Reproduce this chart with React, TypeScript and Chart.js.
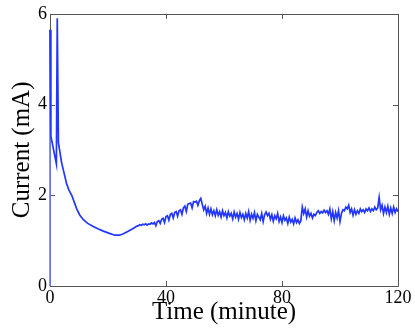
import React, { useEffect, useRef } from "react";
import { Chart, registerables } from "chart.js";

Chart.register(...registerables);

// Start-up transient (minutes, mA)
const earlyTimes = [0, 0, 0.3, 2.2, 2.5, 2.9, 4.0, 5.0, 5.7, 6.5, 7.5, 8.3, 9.2, 10.3, 11.5, 13.0, 14.9, 16.5, 18.4, 20.5, 22.4, 24.0, 25.3, 26.8, 28.2, 29.2];
const earlyCurrent = [0, 5.65, 3.3, 2.69, 5.9, 3.16, 2.72, 2.45, 2.26, 2.12, 2.0, 1.86, 1.7, 1.56, 1.46, 1.38, 1.31, 1.26, 1.21, 1.16, 1.12, 1.12, 1.15, 1.2, 1.25, 1.29];

// Noisy steady part, sampled every 0.5 minute from t = 30 min
const noisyStart = 30;
const noisyInterval = 0.5;
const noisyCurrent = [
  1.32, 1.33, 1.35, 1.34, 1.36, 1.35, 1.37, 1.34, 1.37, 1.36,
  1.39, 1.37, 1.40, 1.33, 1.42, 1.44, 1.38, 1.47, 1.49, 1.40,
  1.53, 1.55, 1.45, 1.58, 1.60, 1.50, 1.62, 1.64, 1.54, 1.66,
  1.68, 1.58, 1.72, 1.76, 1.64, 1.80, 1.82, 1.83, 1.72, 1.86,
  1.85, 1.87, 1.78, 1.88, 1.93, 1.80, 1.68, 1.76, 1.60, 1.72,
  1.58, 1.70, 1.57, 1.66, 1.55, 1.68, 1.56, 1.64, 1.52, 1.66,
  1.55, 1.62, 1.50, 1.64, 1.54, 1.60, 1.48, 1.63, 1.52, 1.60,
  1.47, 1.62, 1.51, 1.58, 1.46, 1.60, 1.50, 1.64, 1.45, 1.58,
  1.49, 1.62, 1.44, 1.58, 1.52, 1.46, 1.60, 1.42, 1.57, 1.63,
  1.55, 1.60, 1.47, 1.57, 1.43, 1.55, 1.48, 1.60, 1.42, 1.52,
  1.40, 1.55, 1.45, 1.50, 1.38, 1.52, 1.41, 1.47, 1.37, 1.50,
  1.40, 1.46, 1.38, 1.44, 1.74, 1.60, 1.70, 1.52, 1.66, 1.54,
  1.60, 1.50, 1.58, 1.55, 1.62, 1.66, 1.60, 1.64, 1.61, 1.67,
  1.62, 1.66, 1.58, 1.70, 1.48, 1.64, 1.44, 1.62, 1.50, 1.66,
  1.42, 1.60, 1.68, 1.66, 1.74, 1.70, 1.78, 1.62, 1.70, 1.56,
  1.68, 1.58, 1.66, 1.60, 1.70, 1.64, 1.68, 1.62, 1.70, 1.66,
  1.72, 1.64, 1.70, 1.66, 1.74, 1.68, 1.72, 1.95, 1.68, 1.78,
  1.60, 1.74, 1.62, 1.76, 1.58, 1.72, 1.60, 1.74, 1.62, 1.70,
  1.64,
];

const xTicks = [0, 40, 80, 120];
const yTicks = [0, 2, 4, 6];

const LINE_COLOR = "#2236ff";
const EDGE_LINE_COLOR = "#6f7eff";
const AXIS_COLOR = "#555555";
const SERIF = "'Liberation Serif', 'Times New Roman', serif";

const framePlugin = {
  id: "frame",
  beforeDatasetsDraw(chart: any) {
    const { ctx, chartArea, scales } = chart;
    const { left, right, top, bottom } = chartArea;
    const tl = 5;
    ctx.save();
    ctx.strokeStyle = AXIS_COLOR;
    ctx.lineWidth = 1;
    ctx.beginPath();
    ctx.rect(Math.round(left) + 0.5, Math.round(top) + 0.5, Math.round(right - left), Math.round(bottom - top));
    xTicks.forEach((v) => {
      const x = Math.round(scales.x.getPixelForValue(v)) + 0.5;
      ctx.moveTo(x, bottom);
      ctx.lineTo(x, bottom - tl);
      ctx.moveTo(x, top);
      ctx.lineTo(x, top + tl);
    });
    yTicks.forEach((v) => {
      const y = Math.round(scales.y.getPixelForValue(v)) + 0.5;
      ctx.moveTo(left, y);
      ctx.lineTo(left + tl, y);
      ctx.moveTo(right, y);
      ctx.lineTo(right - tl, y);
    });
    ctx.stroke();
    ctx.restore();
  },
};

export default function App() {
  const ref = useRef<HTMLCanvasElement | null>(null);

  useEffect(() => {
    document.body.style.margin = "0";
    document.body.style.background = "#ffffff";
    const points: { x: number; y: number }[] = [];
    earlyTimes.forEach((t, i) => points.push({ x: t, y: earlyCurrent[i] }));
    noisyCurrent.forEach((v, i) => points.push({ x: noisyStart + i * noisyInterval, y: v }));

    const chart = new Chart(ref.current as HTMLCanvasElement, {
      type: "line",
      data: {
        datasets: [
          {
            data: points,
            borderColor: LINE_COLOR,
            borderWidth: 1.7,
            pointRadius: 0,
            tension: 0,
            fill: false,
            clip: 4,
            segment: {
              borderColor: (c: any) =>
                c.p0.parsed.x === c.p1.parsed.x ? EDGE_LINE_COLOR : LINE_COLOR,
            },
          },
        ],
      },
      options: {
        animation: false,
        responsive: false,
        events: [],
        layout: { padding: { left: 0, top: 8, right: 17, bottom: 0 } },
        plugins: { legend: { display: false }, tooltip: { enabled: false } },
        scales: {
          x: {
            type: "linear",
            min: 0,
            max: 120,
            afterBuildTicks: (s: any) => {
              s.ticks = xTicks.map((v) => ({ value: v }));
            },
            afterFit: (s: any) => {
              s.height = 42;
            },
            grid: { display: false, drawTicks: false },
            border: { display: false },
            ticks: {
              color: "#000",
              padding: 1,
              maxRotation: 0,
              font: { family: SERIF, size: 18 },
            },
            title: {
              display: true,
              text: "Time (minute)",
              color: "#000",
              font: { family: SERIF, size: 25 },
              padding: { top: 0, bottom: 1 },
            },
          },
          y: {
            type: "linear",
            min: 0,
            max: 6,
            afterBuildTicks: (s: any) => {
              s.ticks = yTicks.map((v) => ({ value: v }));
            },
            afterFit: (s: any) => {
              s.width = 50;
            },
            grid: { display: false, drawTicks: false },
            border: { display: false },
            ticks: {
              color: "#000",
              padding: 3,
              font: { family: SERIF, size: 18 },
            },
            title: {
              display: true,
              text: "Current (mA)",
              color: "#000",
              font: { family: SERIF, size: 25 },
              padding: { top: 7, bottom: 0 },
            },
          },
        },
      },
      plugins: [framePlugin],
    } as any);
    return () => chart.destroy();
  }, []);

  return (
    <div style={{ position: "fixed", left: 0, top: 0, width: 415, height: 328, background: "#fff" }}>
      <canvas ref={ref} width={415} height={328} style={{ display: "block", width: 415, height: 328 }} />
    </div>
  );
}
